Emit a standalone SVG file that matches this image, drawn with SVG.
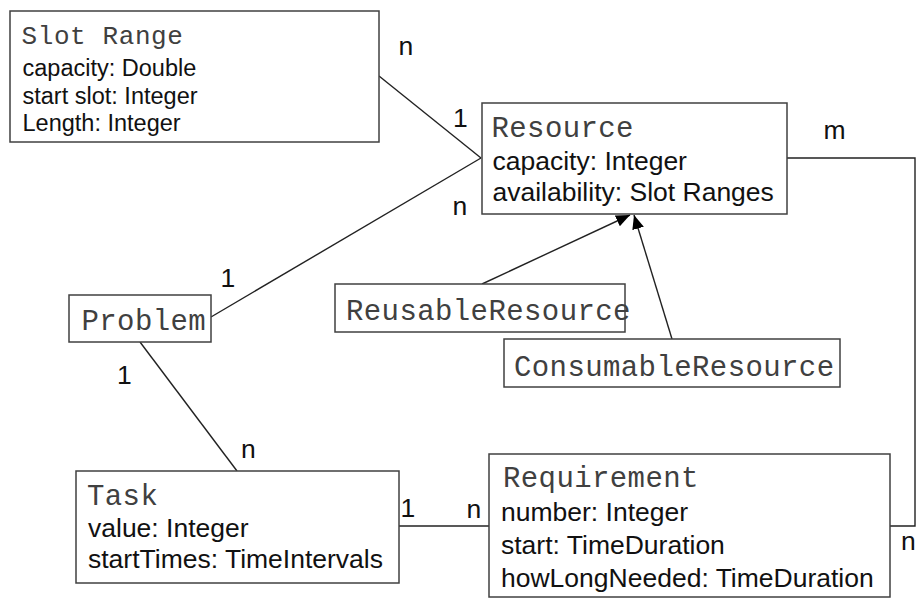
<svg xmlns="http://www.w3.org/2000/svg" width="917" height="599" viewBox="0 0 917 599">
<style>
.box{fill:#fff;stroke:#404040;stroke-width:1.5}
.mono{font-family:"Liberation Mono","Courier New",monospace;font-size:29px;letter-spacing:0.4px;fill:#404040}
.mono.sm{font-size:26px;letter-spacing:0.6px}
.sans{font-family:"Liberation Sans",Arial,sans-serif;font-size:26.5px;fill:#111}
.sans.sm{font-size:23.5px}
.ln{fill:none;stroke:#222;stroke-width:1.4}
</style>
<defs>
<marker id="arr" markerUnits="userSpaceOnUse" markerWidth="16" markerHeight="14" refX="14" refY="6" orient="auto">
<path d="M0,0 L14,6 L0,12 Z" fill="#000"/>
</marker>
</defs>
<rect width="917" height="599" fill="#fff"/>
<g id="connectors">
<line class="ln" x1="379" y1="76" x2="481" y2="158"/>
<line class="ln" x1="211" y1="317" x2="481" y2="158"/>
<line class="ln" x1="140" y1="342" x2="237" y2="471"/>
<line class="ln" x1="399" y1="526" x2="489" y2="526"/>
<polyline class="ln" points="787,158 915,158 915,526 890,526"/>
<line class="ln" x1="482" y1="284" x2="630" y2="215" marker-end="url(#arr)"/>
<line class="ln" x1="672" y1="339" x2="634" y2="215" marker-end="url(#arr)"/>
<text class="sans" x="398.5" y="55">n</text>
<text class="sans" x="453" y="126.5">1</text>
<text class="sans" x="452.5" y="215">n</text>
<text class="sans" x="823.5" y="138.5">m</text>
<text class="sans" x="220.5" y="287">1</text>
<text class="sans" x="117" y="384">1</text>
<text class="sans" x="241" y="458">n</text>
<text class="sans" x="400.5" y="517">1</text>
<text class="sans" x="466.5" y="518">n</text>
<text class="sans" x="901" y="550">n</text>
</g>
<g id="slot-range">
<rect class="box" x="10" y="11" width="369" height="131"/>
<text class="mono sm" x="21.5" y="44">Slot Range</text>
<text class="sans sm" x="22.5" y="75.5">capacity: Double</text>
<text class="sans sm" x="22.5" y="103.5">start slot: Integer</text>
<text class="sans sm" x="22.5" y="130.5">Length: Integer</text>
</g>
<g id="resource">
<rect class="box" x="482" y="103" width="305" height="111"/>
<text class="mono" x="491.5" y="137">Resource</text>
<text class="sans" x="492.5" y="170">capacity: Integer</text>
<text class="sans" x="492.5" y="201">availability: Slot Ranges</text>
</g>
<g id="problem">
<rect class="box" x="69" y="295" width="142" height="47"/>
<text class="mono" x="81.5" y="330">Problem</text>
</g>
<g id="reusable-resource">
<rect class="box" x="335" y="284" width="290" height="48"/>
<text class="mono" x="346" y="320">ReusableResource</text>
</g>
<g id="consumable-resource">
<rect class="box" x="504" y="339" width="336" height="48"/>
<text class="mono" x="514" y="376">ConsumableResource</text>
</g>
<g id="task">
<rect class="box" x="76" y="471" width="323" height="112"/>
<text class="mono" x="87" y="505">Task</text>
<text class="sans" x="88" y="537">value: Integer</text>
<text class="sans" x="88" y="568">startTimes: TimeIntervals</text>
</g>
<g id="requirement">
<rect class="box" x="489" y="454" width="401" height="143"/>
<text class="mono" x="503" y="487">Requirement</text>
<text class="sans" x="501" y="521">number: Integer</text>
<text class="sans" x="501" y="553.5">start: TimeDuration</text>
<text class="sans" x="501" y="586.5">howLongNeeded: TimeDuration</text>
</g>
</svg>
